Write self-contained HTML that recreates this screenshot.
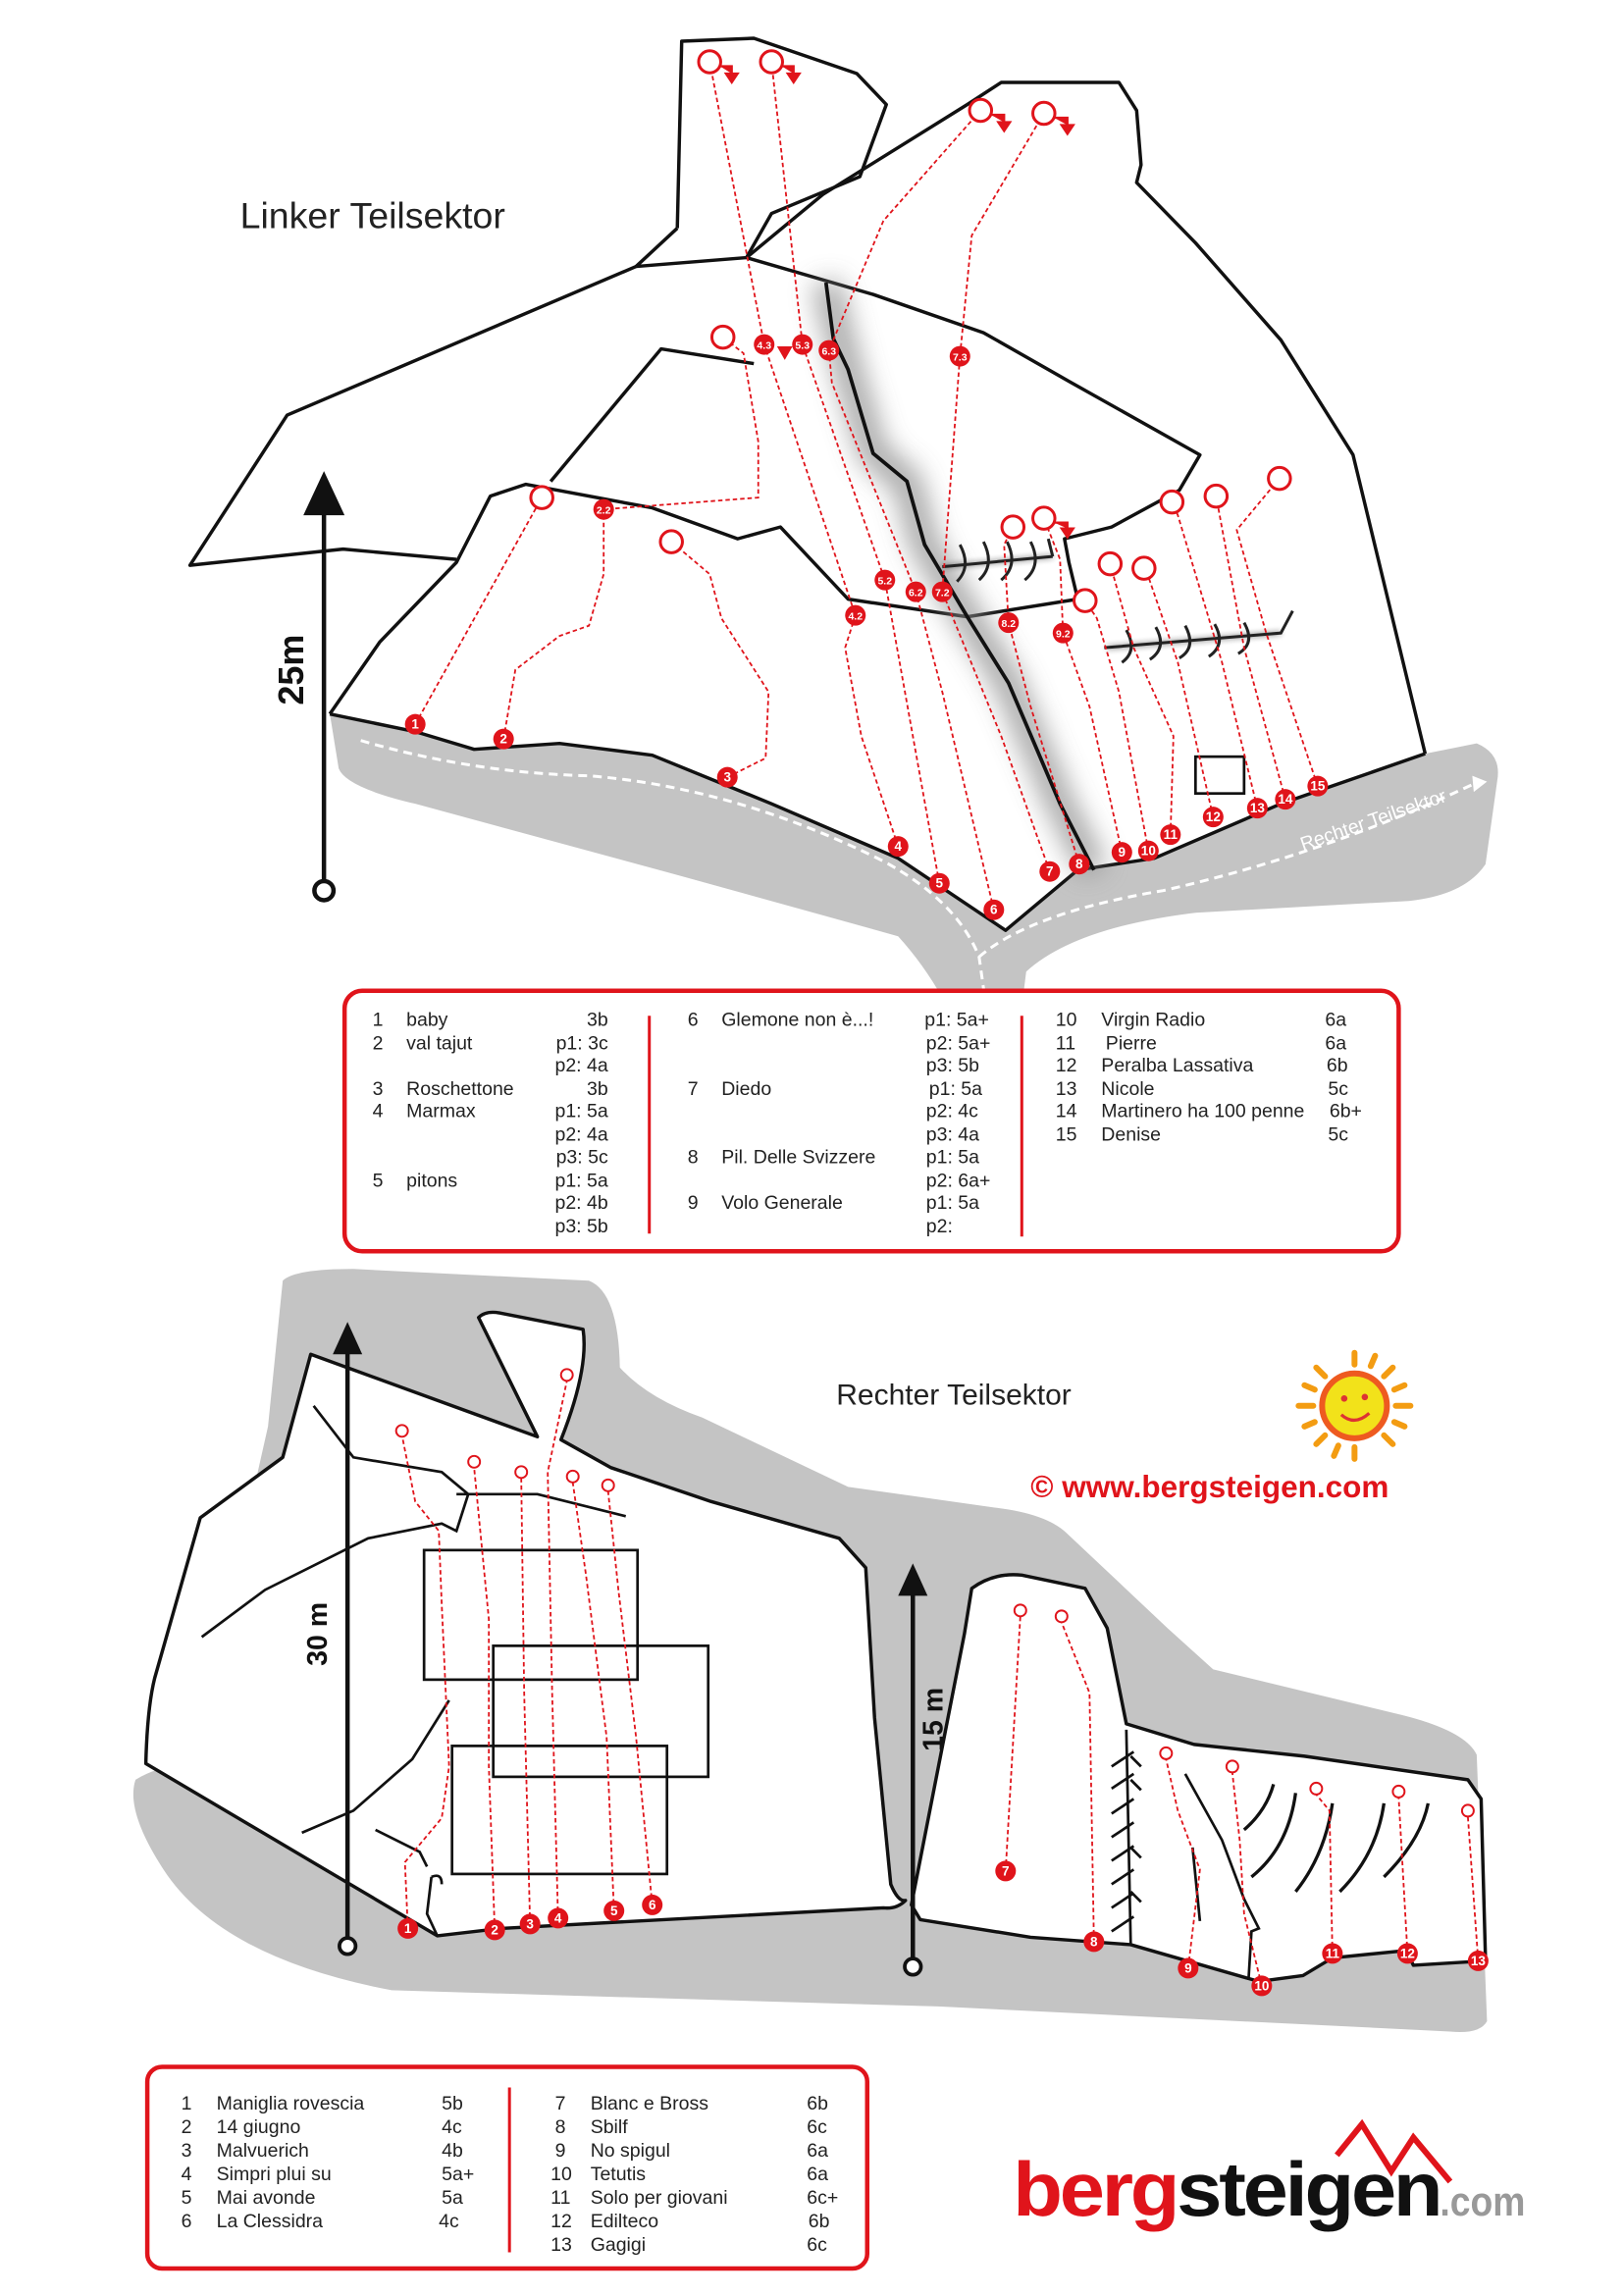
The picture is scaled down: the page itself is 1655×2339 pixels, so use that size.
<!DOCTYPE html>
<html><head><meta charset="utf-8"><style>
html,body{margin:0;padding:0;background:#fff}
svg{display:block}
text{font-family:"Liberation Sans",sans-serif}
</style></head><body>
<svg width="1655" height="2339" viewBox="0 0 1103 1559" xmlns="http://www.w3.org/2000/svg">
<defs>
<filter id="bl" x="-50%" y="-50%" width="200%" height="200%"><feGaussianBlur stdDeviation="9"/></filter>
<filter id="bl2"><feGaussianBlur stdDeviation="2"/></filter>
</defs>
<rect width="1103" height="1559" fill="#fff"/>

<!-- TOP gray ground -->
<path d="M224,485 L282,497 L322,509 L380,505 L443,513 L524,546 L610,583 L683,632 L732,591 L784,583 L870,546 L968,512 L1003,505 Q1020,512 1017,530 L1009,587 Q995,608 957,612 L812,620 Q730,630 697,660 L686,748 L668,748 Q650,680 610,636 L466,596 L282,546 Q235,535 230,522 Z" fill="#c4c4c4"/>

<!-- top wall outlines -->
<g fill="none" stroke="#111" stroke-width="2.3" stroke-linejoin="round">
<path d="M460,155 L463,28 L512,26 L582,50 L602,71 L584,120 L524,145 L507,175"/>
<path d="M432,181 L460,155"/>
<path d="M507,175 L559,132 L657,71 L680,56 L760,56 L772,75 L775,112 L772,124 L812,165 L870,231 L919,309 L968,512"/>
<path d="M432,181 L507,175 L593,200 L668,226 L726,259 L815,309 L801,333 L755,358 L723,366 L726,382 L732,407 L657,419 L576,407 L530,358 L501,366 L443,345 L357,329 L333,337 L310,382 L258,436 L224,485"/>
<path d="M432,181 L195,282 L129,384 L233,373 L310,380"/>
<path d="M374,327 L449,237 L512,247"/>
<path d="M224,485 L282,497 L322,509 L380,505 L443,513 L524,546 L610,583 L683,632 L732,591 L784,583 L870,546 L968,512"/>
</g>
<!-- crack shadow -->
<path d="M561,192 L576,251 L593,308 L616,327 L628,370 L657,419 L685,464 L720,546 L743,591" fill="none" stroke="#888" stroke-width="18" filter="url(#bl)" opacity="0.8"/>
<path d="M561,192 L566,230 L576,251 L593,308 L616,327 L628,370 L657,419 L685,464 L720,546 L743,591" fill="none" stroke="#111" stroke-width="2.5"/>

<!-- white dashed path -->
<path d="M245,503 Q320,525 400,527 Q500,535 600,585 Q650,612 665,650 L672,700" fill="none" stroke="#fff" stroke-width="2" stroke-dasharray="6,4"/>
<path d="M665,650 Q700,620 790,605 Q900,580 1000,533" fill="none" stroke="#fff" stroke-width="2" stroke-dasharray="6,4"/>
<path d="M1000,527 L1010,531 L1001,538 Z" fill="#fff"/>
<text x="885" y="578" font-size="13" fill="#fff" transform="rotate(-19 885 578)">Rechter Teilsektor</text>

<!-- hatch marks -->
<g fill="none" stroke="#222" stroke-width="2.2" filter="url(#bl2)" opacity="0.6">
<path d="M640,385 L715,378 M752,440 L870,430"/></g>
<g fill="none" stroke="#222" stroke-width="2">
<path d="M640,385 L715,378"/>
<path d="M652,370 Q660,385 650,395 M668,368 Q676,384 665,394 M684,368 Q692,384 680,394 M700,368 Q708,384 696,394 M712,366 L715,378"/>
<path d="M750,440 L870,430 L878,415"/>
<path d="M765,428 Q773,442 762,450 M785,426 Q793,440 781,448 M805,425 Q813,440 801,447 M825,424 Q833,438 821,446 M845,423 Q853,437 841,444"/>
</g>
<rect x="812" y="514" width="33" height="25" fill="none" stroke="#111" stroke-width="1.8"/>

<!-- routes top -->
<g fill="none" stroke="#e0141b" stroke-width="1.2" stroke-dasharray="3,2">
<path d="M282,492 L368,338"/>
<path d="M342,502 L350,455 L380,432 L400,425 L410,390 L410,346 L515,338 L515,300 L505,240 L491,229"/>
<path d="M494,528 L520,515 L522,470 L490,420 L482,390 L456,368"/>
<path d="M610,575 L585,500 L574,440 L581,418 L519,234 L482,42"/>
<path d="M638,600 L620,500 L601,394 L545,234 L524,42"/>
<path d="M675,618 L640,470 L622,402 L565,260 L563,238 L600,150 L666,75"/>
<path d="M713,592 L680,500 L640,402 L652,242 L660,160 L709,77"/>
<path d="M733,587 L700,480 L685,423 L682,370 L688,358"/>
<path d="M762,579 L740,480 L722,430 L720,380 L709,352"/>
<path d="M780,578 L760,470 L745,420 L737,408"/>
<path d="M795,567 L797,500 L770,440 L754,383"/>
<path d="M824,555 L800,450 L778,386"/>
<path d="M854,549 L830,450 L800,350 L796,341"/>
<path d="M873,543 L845,440 L826,337"/>
<path d="M895,534 L860,430 L840,360 L869,325"/>
</g>
<g fill="#fff" stroke="#e0141b" stroke-width="2">
<circle cx="368" cy="338" r="7.5"/><circle cx="456" cy="368" r="7.5"/><circle cx="491" cy="229" r="7.5"/>
<circle cx="482" cy="42" r="7.5"/><circle cx="524" cy="42" r="7.5"/><circle cx="666" cy="75" r="7.5"/><circle cx="709" cy="77" r="7.5"/>
<circle cx="688" cy="358" r="7.5"/><circle cx="709" cy="352" r="7.5"/><circle cx="737" cy="408" r="7.5"/><circle cx="754" cy="383" r="7.5"/>
<circle cx="777" cy="386" r="7.5"/><circle cx="796" cy="341" r="7.5"/><circle cx="826" cy="337" r="7.5"/><circle cx="869" cy="325" r="7.5"/>
</g>
<g fill="#e0141b" stroke="#e0141b" stroke-width="1.5">
<path d="M489,45 L497,45 L497,50 M493,50 L501,50 L497,56 Z"/>
<path d="M531,45 L539,45 L539,50 M535,50 L543,50 L539,56 Z"/>
<path d="M673,78 L682,78 L682,83 M678,83 L686,83 L682,89 Z"/>
<path d="M716,80 L725,80 L725,85 M721,85 L729,85 L725,91 Z"/>
<path d="M529,236 L537,236 L533,243 Z"/>
<path d="M716,355 L725,355 L725,359 M721,359 L729,359 L725,365 Z"/>
</g>
<g font-size="9" font-weight="bold" fill="#fff" text-anchor="middle">
<g fill="#e0141b"><circle cx="282" cy="492" r="7"/><circle cx="342" cy="502" r="7"/><circle cx="494" cy="528" r="7"/><circle cx="610" cy="575" r="7"/><circle cx="638" cy="600" r="7"/><circle cx="675" cy="618" r="7"/><circle cx="713" cy="592" r="7"/><circle cx="733" cy="587" r="7"/><circle cx="762" cy="579" r="7"/><circle cx="780" cy="578" r="7"/><circle cx="795" cy="567" r="7"/><circle cx="824" cy="555" r="7"/><circle cx="854" cy="549" r="7"/><circle cx="873" cy="543" r="7"/><circle cx="895" cy="534" r="7"/>
<circle cx="410" cy="346" r="7"/><circle cx="581" cy="418" r="7"/><circle cx="519" cy="234" r="7"/><circle cx="545" cy="234" r="7"/><circle cx="563" cy="238" r="7"/><circle cx="601" cy="394" r="7"/><circle cx="622" cy="402" r="7"/><circle cx="640" cy="402" r="7"/><circle cx="652" cy="242" r="7"/><circle cx="685" cy="423" r="7"/><circle cx="722" cy="430" r="7"/></g>
<text x="282" y="495">1</text><text x="342" y="505">2</text><text x="494" y="531">3</text><text x="610" y="578">4</text><text x="638" y="603">5</text><text x="675" y="621">6</text><text x="713" y="595">7</text><text x="733" y="590">8</text><text x="762" y="582">9</text><text x="780" y="581">10</text><text x="795" y="570">11</text><text x="824" y="558">12</text><text x="854" y="552">13</text><text x="873" y="546">14</text><text x="895" y="537">15</text>
<g font-size="7"><text x="410" y="349">2.2</text><text x="581" y="421">4.2</text><text x="519" y="237">4.3</text><text x="545" y="237">5.3</text><text x="563" y="241">6.3</text><text x="601" y="397">5.2</text><text x="622" y="405">6.2</text><text x="640" y="405">7.2</text><text x="652" y="245">7.3</text><text x="685" y="426">8.2</text><text x="722" y="433">9.2</text></g>
</g>

<!-- 25m arrow -->
<line x1="220" y1="345" x2="220" y2="598" stroke="#111" stroke-width="3"/>
<path d="M206,350 L220,320 L234,350 Z" fill="#111"/>
<circle cx="220" cy="605" r="6.5" fill="#fff" stroke="#111" stroke-width="3"/>
<text x="198" y="455" font-size="24" font-weight="bold" fill="#111" text-anchor="middle" transform="rotate(-90 198 455)" dy="8">25m</text>
<text x="163" y="155" font-size="25" fill="#222">Linker Teilsektor</text>

<!-- legend 1 -->
<rect x="234" y="673" width="716" height="177" rx="12" fill="#fff" stroke="#e0141b" stroke-width="3"/>
<path d="M441,690 V838 M694,690 V840" stroke="#e0141b" stroke-width="2"/>
<g font-size="13" fill="#222">
<text x="253" y="697">1</text><text x="276" y="697">baby</text><text x="413" y="697" text-anchor="end">3b</text>
<text x="253" y="713">2</text><text x="276" y="713">val tajut</text><text x="413" y="713" text-anchor="end">p1: 3c</text>
<text x="413" y="728" text-anchor="end">p2: 4a</text>
<text x="253" y="744">3</text><text x="276" y="744">Roschettone</text><text x="413" y="744" text-anchor="end">3b</text>
<text x="253" y="759">4</text><text x="276" y="759">Marmax</text><text x="413" y="759" text-anchor="end">p1: 5a</text>
<text x="413" y="775" text-anchor="end">p2: 4a</text>
<text x="413" y="790" text-anchor="end">p3: 5c</text>
<text x="253" y="806">5</text><text x="276" y="806">pitons</text><text x="413" y="806" text-anchor="end">p1: 5a</text>
<text x="413" y="821" text-anchor="end">p2: 4b</text>
<text x="413" y="837" text-anchor="end">p3: 5b</text>
<text x="467" y="697">6</text><text x="490" y="697">Glemone non è...!</text><text x="628" y="697">p1: 5a+</text>
<text x="629" y="713">p2: 5a+</text><text x="629" y="728">p3: 5b</text>
<text x="467" y="744">7</text><text x="490" y="744">Diedo</text><text x="631" y="744">p1: 5a</text>
<text x="629" y="759">p2:  4c</text><text x="629" y="775">p3: 4a</text>
<text x="467" y="790">8</text><text x="490" y="790">Pil. Delle Svizzere</text><text x="629" y="790">p1: 5a</text>
<text x="629" y="806">p2: 6a+</text>
<text x="467" y="821">9</text><text x="490" y="821">Volo Generale</text><text x="629" y="821">p1: 5a</text>
<text x="629" y="837">p2:</text>
<text x="717" y="697">10</text><text x="748" y="697">Virgin Radio</text><text x="900" y="697">6a</text>
<text x="717" y="713">11</text><text x="751" y="713">Pierre</text><text x="900" y="713">6a</text>
<text x="717" y="728">12</text><text x="748" y="728">Peralba Lassativa</text><text x="901" y="728">6b</text>
<text x="717" y="744">13</text><text x="748" y="744">Nicole</text><text x="902" y="744">5c</text>
<text x="717" y="759">14</text><text x="748" y="759">Martinero ha 100 penne</text><text x="903" y="759">6b+</text>
<text x="717" y="775">15</text><text x="748" y="775">Denise</text><text x="902" y="775">5c</text>
</g>

<!-- BOTTOM gray -->
<path d="M192,870 Q200,862 240,862 L400,870 Q420,878 421,929 Q440,950 477,963 L576,1010 L675,1024 Q710,1028 724,1041 L793,1106 L824,1134 L948,1164 Q995,1175 1003,1192 L1010,1373 Q1005,1382 985,1380 L637,1363 L266,1352 Q150,1330 111,1270 Q85,1230 92,1209 Q110,1198 130,1200 L182,969 Z" fill="#c4c4c4"/>
<!-- left wall -->
<path d="M211,920 L365,976 L325,895 Q330,890 340,892 L396,903 Q400,930 381,978 L415,997 L483,1020 L570,1045 L588,1065 L594,1167 L605,1280 Q610,1292 615,1291 Q609,1297 600,1296 L340,1310 L297,1315 L99,1198 Q100,1160 105,1140 L136,1031 L192,990 Z" fill="#fff" stroke="#111" stroke-width="2.3" stroke-linejoin="round"/>
<!-- right wall -->
<path d="M619,1294 L655,1110 L660,1079 Q675,1068 694,1070 L737,1079 L752,1106 L765,1171 L811,1185 L886,1193 L997,1209 L1006,1222 L1009,1332 L960,1335 L955,1325 L905,1330 L885,1342 L855,1346 L768,1321 L700,1316 L625,1304 Z" fill="#fff" stroke="#111" stroke-width="2.3" stroke-linejoin="round"/>
<g fill="none" stroke="#111" stroke-width="1.8">
<path d="M213,955 L240,990 L300,1000 L318,1015 L310,1040 L300,1035 L250,1045 L180,1080 L137,1112"/>
<path d="M310,1015 L365,1015 L425,1030"/>
<path d="M305,1155 L280,1195 L240,1230 L205,1245"/>
<path d="M255,1243 L285,1258 L290,1268"/>
<path d="M293,1275 L290,1300 L297,1315 M293,1275 Q300,1272 300,1280"/>
<rect x="288" y="1053" width="145" height="88"/>
<rect x="335" y="1118" width="146" height="89"/>
<rect x="307" y="1186" width="146" height="87"/>
<path d="M805,1205 L830,1250 L845,1290 L855,1310 L850,1312 L848,1345"/>
<path d="M810,1255 L815,1305"/>
<path d="M765,1175 L768,1321"/>
<path d="M755,1200 L770,1190 M755,1215 L770,1205 M755,1232 L770,1222 M755,1248 L770,1238 M755,1264 L770,1254 M755,1280 L770,1270 M755,1296 L770,1286 M755,1312 L770,1302"/>
<path d="M775,1200 L768,1193 M775,1216 L768,1209 M775,1262 L768,1255 M775,1292 L768,1285"/>
</g>
<g fill="none" stroke="#111" stroke-width="2.2">
<path d="M845,1243 Q860,1230 865,1212"/>
<path d="M850,1275 Q875,1255 880,1218"/>
<path d="M880,1285 Q900,1260 905,1225"/>
<path d="M910,1285 Q935,1260 940,1225"/>
<path d="M940,1275 Q965,1250 970,1225"/>
</g>
<!-- routes bottom -->
<g fill="none" stroke="#e0141b" stroke-width="1.2" stroke-dasharray="3,2">
<path d="M277,1310 L275,1265 L300,1235 L305,1200 L300,1090 L298,1040 L282,1020 L273,975"/>
<path d="M336,1311 L332,1200 L332,1100 L322,997"/>
<path d="M360,1307 L356,1150 L354,1004"/>
<path d="M379,1303 L375,1150 L372,1000 L385,938"/>
<path d="M417,1298 L412,1180 L398,1070 L389,1007"/>
<path d="M443,1294 L432,1180 L420,1080 L413,1013"/>
<path d="M683,1271 L693,1098"/>
<path d="M743,1319 L740,1150 L721,1102"/>
<path d="M807,1337 L815,1270 L800,1230 L792,1195"/>
<path d="M857,1349 L845,1300 L842,1250 L837,1204"/>
<path d="M905,1327 L903,1230 L894,1219"/>
<path d="M956,1327 L950,1221"/>
<path d="M1004,1332 L997,1234"/>
</g>
<g fill="#fff" stroke="#e0141b" stroke-width="1.3">
<circle cx="273" cy="972" r="4"/><circle cx="322" cy="993" r="4"/><circle cx="354" cy="1000" r="4"/><circle cx="385" cy="934" r="4"/><circle cx="389" cy="1003" r="4"/><circle cx="413" cy="1009" r="4"/>
<circle cx="693" cy="1094" r="4"/><circle cx="721" cy="1098" r="4"/><circle cx="792" cy="1191" r="4"/><circle cx="837" cy="1200" r="4"/><circle cx="894" cy="1215" r="4"/><circle cx="950" cy="1217" r="4"/><circle cx="997" cy="1230" r="4"/>
</g>
<g font-size="9" font-weight="bold" fill="#fff" text-anchor="middle">
<g fill="#e0141b"><circle cx="277" cy="1310" r="7"/><circle cx="336" cy="1311" r="7"/><circle cx="360" cy="1307" r="7"/><circle cx="379" cy="1303" r="7"/><circle cx="417" cy="1298" r="7"/><circle cx="443" cy="1294" r="7"/><circle cx="683" cy="1271" r="7"/><circle cx="743" cy="1319" r="7"/><circle cx="807" cy="1337" r="7"/><circle cx="857" cy="1349" r="7"/><circle cx="905" cy="1327" r="7"/><circle cx="956" cy="1327" r="7"/><circle cx="1004" cy="1332" r="7"/></g>
<text x="277" y="1313">1</text><text x="336" y="1314">2</text><text x="360" y="1310">3</text><text x="379" y="1306">4</text><text x="417" y="1301">5</text><text x="443" y="1297">6</text><text x="683" y="1274">7</text><text x="743" y="1322">8</text><text x="807" y="1340">9</text><text x="857" y="1352">10</text><text x="905" y="1330">11</text><text x="956" y="1330">12</text><text x="1004" y="1335">13</text>
</g>
<!-- arrows -->
<line x1="236" y1="915" x2="236" y2="1316" stroke="#111" stroke-width="3"/>
<path d="M226,920 L236,898 L246,920 Z" fill="#111"/>
<circle cx="236" cy="1322" r="5.5" fill="#fff" stroke="#111" stroke-width="2.5"/>
<text x="216" y="1110" font-size="19" font-weight="bold" fill="#111" text-anchor="middle" transform="rotate(-90 216 1110)" dy="6">30 m</text>
<line x1="620" y1="1080" x2="620" y2="1330" stroke="#111" stroke-width="3"/>
<path d="M610,1084 L620,1062 L630,1084 Z" fill="#111"/>
<circle cx="620" cy="1336" r="5.5" fill="#fff" stroke="#111" stroke-width="2.5"/>
<text x="634" y="1168" font-size="19" font-weight="bold" fill="#111" text-anchor="middle" transform="rotate(-90 634 1168)" dy="6">15 m</text>

<text x="568" y="954" font-size="20" fill="#222">Rechter Teilsektor</text>
<!-- sun -->
<g transform="translate(920,955)">
<g stroke="#f39c12" stroke-width="4" stroke-linecap="round">
<path d="M0,-28 L0,-36 M20,-20 L26,-26 M28,0 L38,0 M20,20 L26,26 M0,28 L0,36 M-20,20 L-26,26 M-28,0 L-38,0 M-20,-20 L-26,-26 M11,-27 L14,-34 M27,-11 L34,-14 M27,11 L34,14 M-11,27 L-14,34 M-27,11 L-34,14 M-27,-11 L-34,-14"/>
</g>
<circle r="22" fill="#f2e21a" stroke="#ee5a20" stroke-width="4"/>
<circle cx="-7" cy="-5" r="2.2" fill="#d33"/><circle cx="7" cy="-6" r="2.2" fill="#d33"/>
<path d="M-9,6 Q0,14 10,5" fill="none" stroke="#d33" stroke-width="2.2"/>
</g>
<text x="700" y="1017" font-size="21" font-weight="bold" fill="#e0141b">©  www.bergsteigen.com</text>

<!-- legend 2 -->
<rect x="100" y="1404" width="489" height="137" rx="10" fill="#fff" stroke="#e0141b" stroke-width="3"/>
<line x1="346" y1="1418" x2="346" y2="1530" stroke="#e0141b" stroke-width="2"/>
<g font-size="13" fill="#222">
<text x="123" y="1433">1</text><text x="147" y="1433">Maniglia rovescia</text><text x="300" y="1433">5b</text>
<text x="123" y="1449">2</text><text x="147" y="1449">14 giugno</text><text x="300" y="1449">4c</text>
<text x="123" y="1465">3</text><text x="147" y="1465">Malvuerich</text><text x="300" y="1465">4b</text>
<text x="123" y="1481">4</text><text x="147" y="1481">Simpri plui su</text><text x="300" y="1481">5a+</text>
<text x="123" y="1497">5</text><text x="147" y="1497">Mai avonde</text><text x="300" y="1497">5a</text>
<text x="123" y="1513">6</text><text x="147" y="1513">La Clessidra</text><text x="298" y="1513">4c</text>
<text x="377" y="1433">7</text><text x="401" y="1433">Blanc e Bross</text><text x="548" y="1433">6b</text>
<text x="377" y="1449">8</text><text x="401" y="1449">Sbilf</text><text x="548" y="1449">6c</text>
<text x="377" y="1465">9</text><text x="401" y="1465">No spigul</text><text x="548" y="1465">6a</text>
<text x="374" y="1481">10</text><text x="401" y="1481">Tetutis</text><text x="548" y="1481">6a</text>
<text x="374" y="1497">11</text><text x="401" y="1497">Solo per giovani</text><text x="548" y="1497">6c+</text>
<text x="374" y="1513">12</text><text x="401" y="1513">Edilteco</text><text x="549" y="1513">6b</text>
<text x="374" y="1529">13</text><text x="401" y="1529">Gagigi</text><text x="548" y="1529">6c</text>
</g>

<!-- logo -->
<path d="M908,1464 L925,1443 L945,1475 L960,1452 L985,1482" fill="none" stroke="#e0141b" stroke-width="4"/>
<text x="688" y="1505" font-size="52" font-weight="bold" letter-spacing="-2" textLength="290" lengthAdjust="spacingAndGlyphs"><tspan fill="#e0141b">berg</tspan><tspan fill="#111">steigen</tspan></text>
<text x="978" y="1505" font-size="28" font-weight="bold" fill="#999" textLength="58" lengthAdjust="spacingAndGlyphs">.com</text>
</svg>
</body></html>
